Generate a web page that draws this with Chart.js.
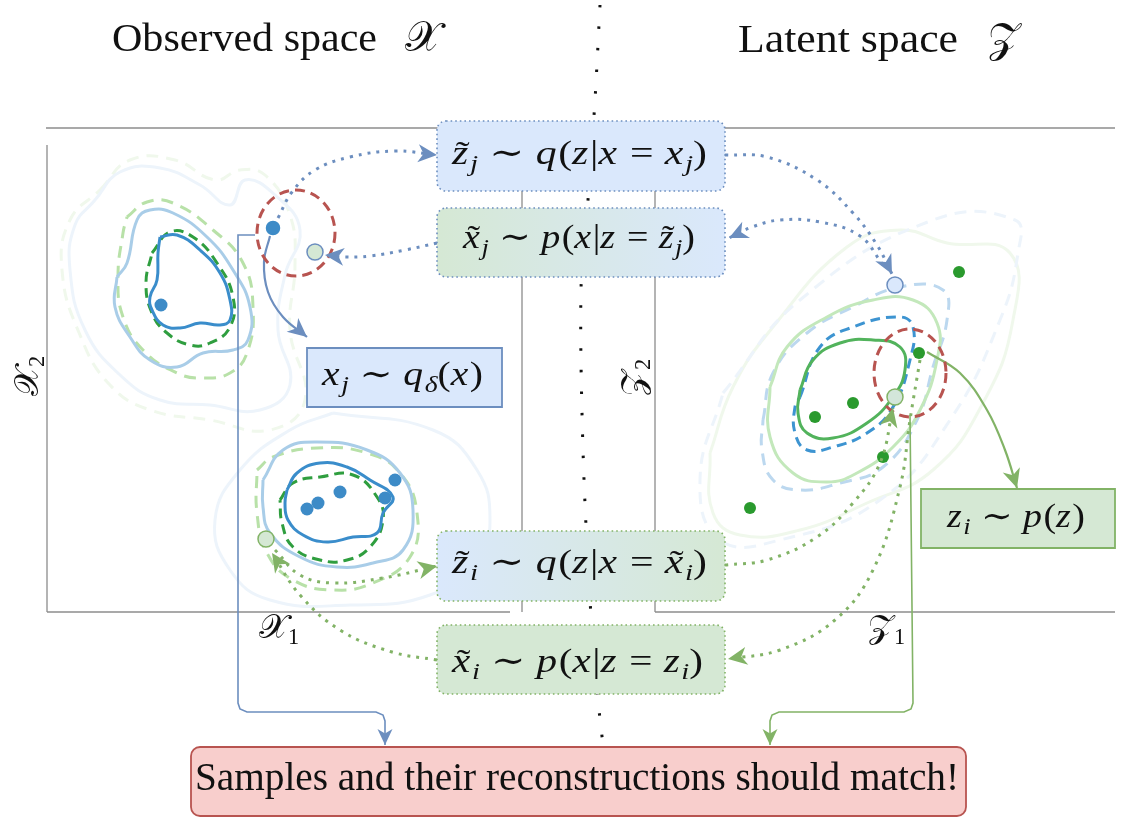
<!DOCTYPE html>
<html>
<head>
<meta charset="utf-8">
<title>Observed space vs latent space</title>
<script src="https://cdn.jsdelivr.net/npm/chart.js@4.4.1/dist/chart.umd.min.js"></script>
<style>
  html, body { margin: 0; background: #fff; }
  canvas { display: block; }
</style>
</head>
<body>
<canvas id="diagram" width="1127" height="817"></canvas>
<script>
// ---------------------------
// TEXTS
// ---------------------------
const TITLE_X = "Observed space";
const TITLE_Z = "Latent space";
const SPACE_X = "\\mathcal{X}";
const SPACE_Z = "\\mathcal{Z}";
const AXIS_X1 = "\\mathcal{X}_1", AXIS_X2 = "\\mathcal{X}_2";
const AXIS_Z1 = "\\mathcal{Z}_1", AXIS_Z2 = "\\mathcal{Z}_2";
const LABEL_ZJ = "\\tilde{z}_j \\sim q(z|x = x_j)";
const LABEL_XJ = "\\tilde{x}_j \\sim p(x|z = \\tilde{z}_j)";
const LABEL_ZI = "\\tilde{z}_i \\sim q(z|x = \\tilde{x}_i)";
const LABEL_XI = "\\tilde{x}_i \\sim p(x|z = z_i)";
const LABEL_QD = "x_j \\sim q_\\delta(x)";
const LABEL_PZ = "z_i \\sim p(z)";
const LABEL_MATCH = "Samples and their reconstructions should match!";

// ---------------------------
// OBSERVED SPACE (x1, x2)
// ---------------------------
const xFaintBlueUp  = [[4.8,41.2],[7.3,44.0],[11.3,44.4],[15.3,42.7],[18.3,40.7],[19.8,43.2],[22.8,41.7],[25.3,38.2],[23.8,33.7],[23.1,28.2],[24.3,22.7],[21.3,20.2],[16.3,20.7],[11.3,21.2],[7.3,23.7],[3.8,28.2],[2.3,34.2],[2.8,38.7]];
const xFaintGreenUp = [[5.3,42.2],[8.3,45.2],[12.8,45.2],[16.8,43.2],[19.3,44.2],[21.8,43.7],[24.3,39.7],[24.8,34.7],[24.3,28.2],[25.8,21.2],[22.3,18.2],[16.3,19.2],[10.3,20.2],[6.3,22.7],[3.3,27.7],[1.5,34.2],[2.3,39.2]];
const xFaintBlueLow = [[28.6,19.9],[38.6,18.2],[43.0,14.2],[44.3,9.2],[43.0,5.2],[38.3,1.7],[30.3,0.7],[22.3,1.2],[18.3,4.2],[16.8,9.2],[19.3,14.2],[24.3,18.2]];
const xLightGreenUp = [[8.0,39.5],[10.0,41.0],[12.6,40.9],[16.6,38.2],[19.6,34.9],[20.6,30.5],[20.0,25.9],[18.3,23.9],[15.6,23.4],[13.0,23.9],[9.6,26.2],[7.6,29.5],[7.1,33.5],[7.6,37.9]];
const xLightBlueUp  = [[7.0,33.5],[8.0,34.9],[9.0,39.2],[10.3,40.2],[12.6,39.9],[16.0,37.5],[18.6,34.2],[20.3,30.5],[20.1,27.2],[18.6,26.2],[15.6,25.9],[13.0,24.5],[10.3,25.2],[8.3,27.5],[6.8,30.5]];
const xDarkGreenUp  = [[10.5,35.9],[12.3,38.0],[14.6,37.5],[17.0,34.9],[18.6,31.5],[18.3,28.5],[16.3,26.9],[14.3,26.7],[12.0,27.9],[10.5,29.9],[9.9,32.9]];
const xDarkBlueUp   = [[11.3,37.5],[13.0,37.7],[15.3,36.2],[17.3,33.9],[18.3,31.2],[18.3,29.2],[17.3,28.7],[15.3,28.9],[13.3,28.4],[11.6,28.7],[10.5,30.2],[10.3,31.5],[11.0,33.2],[11.1,35.9]];
const xLightGreenLow = [[21.0,14.2],[22.6,15.5],[27.0,16.4],[32.0,15.9],[35.3,13.9],[37.0,9.9],[36.3,5.5],[32.6,2.9],[28.6,2.2],[24.6,3.2],[22.0,5.9],[21.0,9.9]];
const xLightBlueLow  = [[21.6,13.2],[23.6,16.2],[27.0,17.0],[32.0,16.2],[35.3,13.9],[36.6,10.2],[35.6,6.2],[32.6,4.9],[29.0,4.5],[25.3,5.5],[22.3,7.9],[21.6,10.5]];
const xDarkGreenLow  = [[23.3,11.2],[24.6,12.9],[27.3,13.5],[30.6,13.7],[33.0,11.5],[33.6,9.2],[32.3,6.5],[30.0,5.2],[27.3,5.2],[24.6,6.5],[23.5,8.9]];
const xDarkBlueLow   = [[24.0,12.2],[25.0,13.9],[27.3,14.9],[30.0,14.5],[32.3,13.2],[34.6,11.5],[33.6,9.9],[33.0,7.9],[30.6,7.5],[28.0,7.0],[25.6,7.7],[24.1,9.2],[23.8,10.9]];
const xSamples = [[11.4,30.7],[26.0,10.3],[27.1,10.9],[29.3,12.0],[33.8,11.4],[34.8,13.2]];
// x_j, x~_j, x~_i
const xSpecial = [[22.6,38.4],[26.8,36.0],[21.9,7.3]];
const xRing = { center: [24.9,37.9], rx: 3.9, ry: 4.3 };

// ---------------------------
// LATENT SPACE (z1, z2)
// ---------------------------
const zFaintGreen = [[5.5,15.9],[7.8,22.5],[11.8,28.5],[19.2,36.5],[24.5,38.2],[29.2,36.9],[35.5,35.9],[35.8,29.2],[32.8,20.9],[27.8,14.2],[21.2,10.9],[14.5,8.2],[8.5,7.7],[5.8,9.9]];
const zFaintBlue  = [[6.8,21.9],[14.5,31.2],[27.8,39.2],[36.0,39.2],[36.3,35.9],[34.5,29.2],[29.5,19.2],[22.5,11.2],[12.5,7.2],[6.5,7.2],[4.5,13.2]];
const zLightBlue  = [[10.8,19.2],[11.8,23.9],[15.2,27.9],[19.8,30.5],[24.5,32.5],[28.8,32.2],[29.2,29.2],[27.8,24.5],[26.2,19.2],[22.8,14.5],[18.5,12.9],[14.5,12.2],[11.8,13.2],[10.7,16.2]];
const zLightGreen = [[11.5,22.5],[13.2,26.5],[17.2,29.5],[21.8,31.2],[25.8,31.2],[28.2,28.9],[28.2,25.2],[26.5,20.2],[23.8,16.5],[20.2,13.9],[17.2,13.0],[13.8,13.9],[11.5,17.5]];
const zDarkBlue   = [[14.5,21.5],[16.5,26.5],[19.8,28.5],[24.5,29.5],[25.8,28.5],[25.5,25.2],[23.8,20.5],[21.2,17.9],[17.8,16.5],[15.2,16.2],[14.0,17.9],[14.0,20.5]];
const zDarkGreen  = [[14.5,22.2],[15.8,25.2],[18.5,26.9],[21.8,27.2],[24.5,26.5],[25.0,24.2],[23.8,21.5],[21.2,18.9],[17.8,17.4],[15.2,17.9],[14.3,19.9]];
const zSamples = [[30.4,34.0],[26.4,25.9],[19.8,20.9],[16.0,19.5],[22.8,15.5],[9.5,10.4]];
// z~_j, z~_i
const zSpecial = [[24.0,32.7],[24.0,21.5]];
const zRing = { center: [25.5,23.9], rx: 3.6, ry: 4.4 };

// ---------------------------
// CONNECTORS (page units)
// ---------------------------
const divider   = [[600,5],[595,100],[588,200],[581,290],[583,450],[590,600],[598,700],[603,745]];
const arrXjToZj = [[278,218],[292,192],[315,170],[350,157],[395,151],[437,155]];
const arrXjRec  = [[437,243],[405,250],[370,256],[345,257],[325,255]];
const arrXjQd   = [[270,236],[264,262],[268,292],[283,317],[307,337]];
const arrZjIn   = [[725,155],[767,157],[817,180],[853,213],[877,245],[892,274]];
const arrZjOut  = [[883,265],[860,236],[820,222],[780,220],[752,227],[729,238]];
const arrZiPz   = [[927,352],[960,373],[987,410],[1005,450],[1017,488]];
const arrXiToZi = [[275,550],[300,575],[333,583],[383,578],[437,566]];
const arrXiRec  = [[437,660],[392,652],[340,630],[300,595],[272,553]];
const arrZiIn   = [[725,565],[767,560],[817,537],[853,503],[880,463],[893,408]];
const arrZiOut  = [[920,360],[910,420],[900,487],[873,570],[835,620],[780,650],[728,659]];
const linkBlue  = [[255,235],[238,235],[238,703],[240,709],[247,712],[376,712],[383,715],[385,721],[385,745]];
const linkGreen = [[910,415],[913,703],[911,709],[904,712],[779,712],[772,715],[770,721],[770,745]];

// ---------------------------
// LAYOUT
// ---------------------------
const W = 1127, H = 817;
const PX = { ox: 47, oy: 612, unit: 10 };   // observed panel origin (px) and px per unit
const PZ = { ox: 655, oy: 612, unit: 10 };  // latent panel origin
const BLUE = "#6c8ebf", GREEN = "#82b366", RED = "#b85450";
const FILL_B = "#dae8fc", FILL_G = "#d5e8d4", FILL_R = "#f8cecc";
const SERIF = '"Liberation Serif", "DejaVu Serif", serif';

const boxes = [
  { x0: 437, y0: 121, x1: 725, y1: 191, fill: [FILL_B, FILL_B], edge: BLUE, dotted: true, r: 9,
    text: LABEL_ZJ, tx: 452, tw: 255, base: 164, size: 34 },
  { x0: 437, y0: 208, x1: 725, y1: 277, fill: [FILL_G, FILL_B], edge: BLUE, dotted: true, r: 9,
    text: LABEL_XJ, tx: 463, tw: 232, base: 248, size: 34 },
  { x0: 437, y0: 531, x1: 725, y1: 601, fill: [FILL_B, FILL_G], edge: GREEN, dotted: true, r: 9,
    text: LABEL_ZI, tx: 452, tw: 255, base: 573, size: 34 },
  { x0: 437, y0: 625, x1: 725, y1: 694, fill: [FILL_G, FILL_G], edge: GREEN, dotted: true, r: 9,
    text: LABEL_XI, tx: 452, tw: 251, base: 672, size: 34 },
  { x0: 307, y0: 348, x1: 502, y1: 407, fill: [FILL_B, FILL_B], edge: BLUE, dotted: false, r: 0,
    text: LABEL_QD, tx: 322, tw: 161, base: 385, size: 33 },
  { x0: 921, y0: 489, x1: 1115, y1: 548, fill: [FILL_G, FILL_G], edge: GREEN, dotted: false, r: 0,
    text: LABEL_PZ, tx: 947, tw: 138, base: 527, size: 33 },
  { x0: 191, y0: 747, x1: 966, y1: 816, fill: [FILL_R, FILL_R], edge: RED, dotted: false, r: 9,
    plain: LABEL_MATCH, tx: 195, tw: 764, base: 790, size: 40 }
];

// ---------------------------
// HELPERS
// ---------------------------
const pts = a => a.map(([x, y]) => ({ x, y }));
const loop = a => pts([...a, a[0]]);

function contour(data, color, dash, xId, yId, order) {
  return { data: loop(data), showLine: true, borderColor: color, borderWidth: 3, borderDash: dash,
           pointRadius: 0, tension: 0.45, fill: false, xAxisID: xId, yAxisID: yId, order };
}
function path(data, color, width, dash, tension, order, head) {
  return { data: pts(data), showLine: true, borderColor: color, borderWidth: width, borderDash: dash,
           borderCapStyle: "butt", pointRadius: 0, tension, fill: false, xAxisID: "x", yAxisID: "y",
           order, arrowHead: head };
}

const CAL = { X: "\uD835\uDCB3", Z: "\uD835\uDCB5" };
function parseTex(s) {
  const out = [];
  let i = 0;
  function atom() {
    if (s.startsWith("\\tilde{", i)) { const c = s[i + 7]; i += 9; return { t: c, it: true, tilde: true }; }
    if (s.startsWith("\\mathcal{", i)) { const c = s[i + 9]; i += 11; return { t: CAL[c], cal: true }; }
    if (s.startsWith("\\sim", i)) { i += 4; return { t: "\u223C", op: true }; }
    if (s.startsWith("\\delta", i)) { i += 6; return { t: "\u03B4", it: true }; }
    const c = s[i++];
    if (/[a-zA-Z]/.test(c)) return { t: c, it: true };
    if (c === "=") return { t: "=", op: true };
    return { t: c };
  }
  while (i < s.length) {
    if (s[i] === " ") { i++; continue; }
    if (s[i] === "_") { i++; const a = atom(); a.sub = true; out.push(a); continue; }
    out.push(atom());
  }
  return out;
}

function layoutMath(ctx, pieces, size) {
  let w = 0;
  const items = [];
  for (const p of pieces) {
    const fs = p.sub ? size * 0.7 : size;
    const font = p.cal ? `${fs * 1.05}px "DejaVu Serif", "DejaVu Sans", serif`
                       : `${p.it ? "italic " : ""}${fs}px ${SERIF}`;
    ctx.font = font;
    const gap = p.op ? size * 0.27 : 0;
    const tw = ctx.measureText(p.t).width;
    items.push({ p, font, x: w + gap, dy: p.sub ? size * 0.2 : 0, w: tw });
    w += tw + 2 * gap + (p.it && !p.sub ? size * 0.04 : 0);
  }
  return { items, w };
}

function drawMath(ctx, tex, x, base, width, size) {
  const lay = layoutMath(ctx, parseTex(tex), size);
  const sx = width ? width / lay.w : 1;
  ctx.save();
  ctx.translate(x, base);
  ctx.scale(sx, 1);
  ctx.fillStyle = "#111";
  ctx.textBaseline = "alphabetic";
  for (const it of lay.items) {
    ctx.font = it.font;
    ctx.textAlign = "left";
    ctx.fillText(it.p.t, it.x, it.dy);
    if (it.p.tilde) {
      ctx.font = `${size}px ${SERIF}`;
      ctx.textAlign = "center";
      ctx.fillText("\u02DC", it.x + it.w * 0.55 + size * 0.04, size * 0.02);
    }
  }
  ctx.restore();
  return lay.w * sx;
}

function drawPlain(ctx, text, x, base, width, size) {
  ctx.save();
  ctx.font = `${size}px ${SERIF}`;
  const sx = width / ctx.measureText(text).width;
  ctx.translate(x, base);
  ctx.scale(sx, 1);
  ctx.fillStyle = "#111";
  ctx.textAlign = "left";
  ctx.textBaseline = "alphabetic";
  ctx.fillText(text, 0, 0);
  ctx.restore();
}

function ring(chart, r, xs, ys) {
  const ctx = chart.ctx;
  const sx = chart.scales[xs], sy = chart.scales[ys];
  const cx = sx.getPixelForValue(r.center[0]), cy = sy.getPixelForValue(r.center[1]);
  const rx = Math.abs(sx.getPixelForValue(r.center[0] + r.rx) - cx);
  const ry = Math.abs(sy.getPixelForValue(r.center[1] + r.ry) - cy);
  ctx.save();
  ctx.strokeStyle = RED;
  ctx.lineWidth = 3;
  ctx.setLineDash([10, 6]);
  ctx.beginPath();
  ctx.ellipse(cx, cy, rx, ry, 0, 0, Math.PI * 2);
  ctx.stroke();
  ctx.restore();
}

const diagramPlugin = {
  id: "diagram",
  beforeDraw(chart) {
    const ctx = chart.ctx;
    ctx.save();
    ctx.fillStyle = "#fff";
    ctx.fillRect(0, 0, chart.width, chart.height);
    ctx.restore();
  },
  beforeDatasetsDraw(chart) {
    // panel frames
    const ctx = chart.ctx, x = chart.scales.x, y = chart.scales.y;
    const seg = [[46,128,1115,128],[47,145,47,612],[47,612,510,612],[522,128,522,612],
                 [655,128,655,612],[655,612,1115,612]];
    ctx.save();
    ctx.strokeStyle = "#8c8c8c";
    ctx.lineWidth = 1.3;
    for (const s of seg) {
      ctx.beginPath();
      ctx.moveTo(x.getPixelForValue(s[0]), y.getPixelForValue(s[1]));
      ctx.lineTo(x.getPixelForValue(s[2]), y.getPixelForValue(s[3]));
      ctx.stroke();
    }
    ctx.restore();
  },
  beforeDatasetDraw(chart, args) {
    const ds = chart.data.datasets[args.index];
    if (ds.label === "specialX") ring(chart, xRing, "x1", "x2");
    if (ds.label === "specialZ") ring(chart, zRing, "z1", "z2");
  },
  afterDatasetsDraw(chart) {
    const ctx = chart.ctx, x = chart.scales.x, y = chart.scales.y;

    // boxes
    for (const b of boxes) {
      const x0 = x.getPixelForValue(b.x0), x1 = x.getPixelForValue(b.x1);
      const y0 = y.getPixelForValue(b.y0), y1 = y.getPixelForValue(b.y1);
      const g = ctx.createLinearGradient(x0, 0, x1, 0);
      g.addColorStop(0, b.fill[0]);
      g.addColorStop(1, b.fill[1]);
      ctx.save();
      ctx.beginPath();
      ctx.roundRect(x0, y0, x1 - x0, y1 - y0, b.r);
      ctx.fillStyle = g;
      ctx.fill();
      ctx.strokeStyle = b.edge;
      ctx.lineWidth = b.dotted ? 1.6 : 1.8;
      ctx.setLineDash(b.dotted ? [1.6, 3] : []);
      ctx.stroke();
      ctx.restore();
      if (b.plain) drawPlain(ctx, b.plain, x.getPixelForValue(b.tx), y.getPixelForValue(b.base), b.tw, b.size);
      else drawMath(ctx, b.text, x.getPixelForValue(b.tx), y.getPixelForValue(b.base), b.tw, b.size);
    }

    // arrow heads
    chart.data.datasets.forEach((ds, i) => {
      if (!ds.arrowHead) return;
      const el = chart.getDatasetMeta(i).data;
      const p = el[el.length - 1], q = el[el.length - 2];
      let bx = p.cp1x, by = p.cp1y;
      if (bx === undefined || Math.hypot(p.x - bx, p.y - by) < 1) { bx = q.x; by = q.y; }
      const d = Math.hypot(p.x - bx, p.y - by);
      const ux = (p.x - bx) / d, uy = (p.y - by) / d, nx = -uy, ny = ux;
      const thin = ds.borderWidth < 2;
      const L = thin ? 16 : 19, Wd = thin ? 7.5 : 9, N = thin ? 4.5 : 5.5;
      ctx.save();
      ctx.fillStyle = ds.borderColor;
      ctx.beginPath();
      ctx.moveTo(p.x, p.y);
      ctx.lineTo(p.x - L * ux + Wd * nx, p.y - L * uy + Wd * ny);
      ctx.lineTo(p.x - (L - N) * ux, p.y - (L - N) * uy);
      ctx.lineTo(p.x - L * ux - Wd * nx, p.y - L * uy - Wd * ny);
      ctx.closePath();
      ctx.fill();
      ctx.restore();
    });

    // titles
    drawPlain(ctx, TITLE_X, x.getPixelForValue(112), y.getPixelForValue(51), 265, 39);
    drawMath(ctx, SPACE_X, x.getPixelForValue(405), y.getPixelForValue(51), 0, 40);
    drawPlain(ctx, TITLE_Z, x.getPixelForValue(738), y.getPixelForValue(52), 220, 39);
    drawMath(ctx, SPACE_Z, x.getPixelForValue(988), y.getPixelForValue(52), 0, 40);

    // axis labels
    drawMath(ctx, AXIS_X1, x.getPixelForValue(259), y.getPixelForValue(638), 0, 32);
    drawMath(ctx, AXIS_Z1, x.getPixelForValue(868), y.getPixelForValue(638), 0, 32);
    for (const [tex, cx] of [[AXIS_X2, 38], [AXIS_Z2, 644]]) {
      ctx.save();
      ctx.translate(x.getPixelForValue(cx), y.getPixelForValue(378));
      ctx.rotate(-Math.PI / 2);
      drawMath(ctx, tex, -18, 0, 0, 32);
      ctx.restore();
    }
  }
};

// ---------------------------
// DATASETS
// ---------------------------
const datasets = [
  path(divider, "#111", 3, [2.5, 19], 0.3, 100, false),

  contour(xFaintBlueUp, "#edf4fb", [], "x1", "x2", 90),
  contour(xFaintGreenUp, "#f0f8ec", [12, 8], "x1", "x2", 91),
  contour(xFaintBlueLow, "#edf4fb", [], "x1", "x2", 90),
  contour(zFaintGreen, "#f0f8ec", [], "z1", "z2", 91),
  contour(zFaintBlue, "#edf4fb", [12, 8], "z1", "z2", 90),

  contour(xLightGreenUp, "#b8e1a8", [12, 8], "x1", "x2", 80),
  contour(xLightBlueUp, "#a9cde8", [], "x1", "x2", 79),
  contour(xDarkGreenUp, "#2f9e3f", [10, 6], "x1", "x2", 78),
  contour(xDarkBlueUp, "#3a8dcb", [], "x1", "x2", 77),
  contour(xLightGreenLow, "#b8e1a8", [12, 8], "x1", "x2", 80),
  contour(xLightBlueLow, "#a9cde8", [], "x1", "x2", 79),
  contour(xDarkGreenLow, "#2f9e3f", [10, 6], "x1", "x2", 78),
  contour(xDarkBlueLow, "#3a8dcb", [], "x1", "x2", 77),

  contour(zLightBlue, "#bcd8ef", [12, 8], "z1", "z2", 80),
  contour(zLightGreen, "#c3e8bb", [], "z1", "z2", 79),
  contour(zDarkBlue, "#3d94d1", [10, 6], "z1", "z2", 78),
  contour(zDarkGreen, "#52b35c", [], "z1", "z2", 77),

  { data: pts(xSamples), pointRadius: 6.5, pointBackgroundColor: "#3d8bc7", pointBorderWidth: 0,
    xAxisID: "x1", yAxisID: "x2", order: 60 },
  { data: pts(zSamples), pointRadius: 6, pointBackgroundColor: "#2a9a2e", pointBorderWidth: 0,
    xAxisID: "z1", yAxisID: "z2", order: 60 },

  path(linkBlue, BLUE, 1.6, [], 0, 50, true),
  path(linkGreen, GREEN, 1.6, [], 0, 50, true),
  path(arrXjToZj, BLUE, 3, [3, 6], 0.4, 40, true),
  path(arrXjRec, BLUE, 3, [3, 6], 0.4, 40, true),
  path(arrXjQd, BLUE, 2.2, [], 0.4, 40, true),
  path(arrZjIn, BLUE, 3, [3, 6], 0.4, 40, true),
  path(arrZjOut, BLUE, 3, [3, 6], 0.4, 40, true),
  path(arrZiPz, GREEN, 2.2, [], 0.4, 40, true),
  path(arrXiToZi, GREEN, 3, [3, 6], 0.4, 40, true),
  path(arrXiRec, GREEN, 3, [3, 6], 0.4, 40, true),
  path(arrZiIn, GREEN, 3, [3, 6], 0.4, 40, true),
  path(arrZiOut, GREEN, 3, [3, 6], 0.4, 40, true),

  { label: "specialX", data: pts(xSpecial), pointRadius: [6.5, 8, 8],
    pointBackgroundColor: ["#3d8bc7", FILL_G, FILL_G], pointBorderColor: ["#3d8bc7", BLUE, GREEN],
    pointBorderWidth: 1.5, xAxisID: "x1", yAxisID: "x2", order: 30 },
  { label: "specialZ", data: pts(zSpecial), pointRadius: 8,
    pointBackgroundColor: [FILL_B, "#d3e6da"], pointBorderColor: [BLUE, GREEN],
    pointBorderWidth: 1.5, xAxisID: "z1", yAxisID: "z2", order: 30 }
];

// panel scales: unit grid anchored at each panel's lower-left corner
const span = (o, unit, size, flip) => flip
  ? { min: (o - size) / unit, max: o / unit }
  : { min: -o / unit, max: (size - o) / unit };

new Chart(document.getElementById("diagram"), {
  type: "scatter",
  data: { datasets },
  options: {
    responsive: false,
    animation: false,
    devicePixelRatio: 1,
    layout: { padding: 0, autoPadding: false },
    plugins: { legend: { display: false }, tooltip: { enabled: false } },
    scales: {
      x:  { type: "linear", axis: "x", display: false, min: 0, max: W },
      y:  { type: "linear", axis: "y", display: false, min: 0, max: H, reverse: true },
      x1: { type: "linear", axis: "x", display: false, ...span(PX.ox, PX.unit, W, false) },
      x2: { type: "linear", axis: "y", display: false, ...span(PX.oy, PX.unit, H, true) },
      z1: { type: "linear", axis: "x", display: false, ...span(PZ.ox, PZ.unit, W, false) },
      z2: { type: "linear", axis: "y", display: false, ...span(PZ.oy, PZ.unit, H, true) }
    }
  },
  plugins: [diagramPlugin]
});
</script>
</body>
</html>
